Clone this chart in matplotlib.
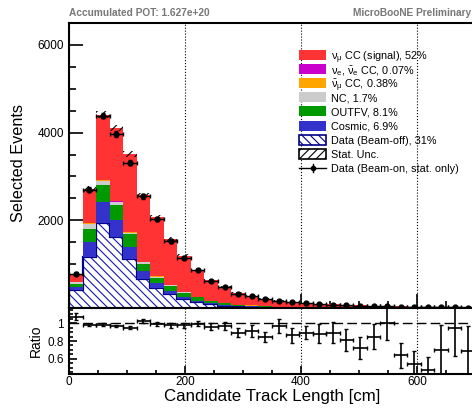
import numpy as np
import matplotlib
matplotlib.use("Agg")
import matplotlib.pyplot as plt
from matplotlib.patches import Rectangle
from matplotlib.lines import Line2D
from matplotlib.ticker import MultipleLocator, FuncFormatter

# binning: 30 bins from 0 to 700 cm
bin_edges = np.linspace(0, 700, 31)

# stacked prediction, events per bin (bottom -> top)
beam_off = [405, 1173, 1936, 1608, 1113, 656, 450, 327, 198, 130, 80, 55, 40, 30, 22,
            18, 14, 12, 10, 8, 7, 6, 5, 4, 4, 3, 3, 2, 2, 2]
cosmic = [75, 336, 471, 396, 289, 190, 121, 62, 53, 40, 25, 18, 12, 9, 7,
          5, 4, 3, 3, 2, 2, 2, 1, 1, 1, 1, 1, 1, 1, 1]
outfv = [60, 289, 404, 343, 282, 167, 122, 114, 99, 70, 45, 32, 22, 16, 12,
         9, 7, 6, 5, 4, 3, 3, 2, 2, 2, 2, 1, 1, 1, 1]
nc = [45, 120, 90, 65, 30, 30, 22, 14, 10, 8, 5, 4, 3, 2, 2,
      1, 1, 1, 1, 1, 1, 1, 0, 0, 0, 0, 0, 0, 0, 0]
numubar = [4, 12, 18, 16, 13, 9, 6, 4, 3, 2, 2, 1, 1, 1, 1,
           1, 1, 0, 0, 0, 0, 0, 0, 0, 0, 0, 0, 0, 0, 0]
nue = [1, 2, 2, 2, 2, 2, 1, 1, 1, 1, 1, 1, 0, 0, 0,
       0, 0, 0, 0, 0, 0, 0, 0, 0, 0, 0, 0, 0, 0, 0]
signal = [180, 781, 1491, 1677, 1784, 1522, 1343, 1048, 825, 619, 482, 369, 272, 222, 171,
          136, 113, 98, 81, 70, 59, 48, 42, 35, 29, 24, 20, 17, 14, 11]
mc_stat = [30, 60, 80, 75, 70, 55, 45, 40, 35, 30, 25, 20, 15, 12, 10,
           9, 8, 7, 6, 5, 5, 4, 4, 3, 3, 3, 3, 2, 2, 2]

# beam-on data
data = [784, 2700, 4390, 3970, 3315, 2545, 2035, 1532, 1150, 862, 617, 470, 330, 265, 200,
        160, 130, 110, 90, 75, 60, 45, 42, 40, 23, 17, 12, 14, 17, 10]

# data / prediction
ratio = [1.072, 0.981, 0.985, 0.965, 0.95, 1.025, 0.99, 0.975, 0.975, 0.996,
         0.958, 0.97, 0.893, 0.912, 0.844, 0.97, 0.863, 0.893, 0.882, 0.893,
         0.81, 0.72, 0.848, 1.0, 0.638, 0.54, 0.474, 0.695, 0.943, 0.683]
ratio_err = [0.04, 0.015, 0.012, 0.013, 0.015, 0.02, 0.02, 0.025, 0.028, 0.03,
             0.04, 0.044, 0.05, 0.072, 0.057, 0.082, 0.086, 0.076, 0.11, 0.12,
             0.124, 0.124, 0.143, 0.19, 0.143, 0.15, 0.15, 0.28, 0.31, 0.28]

stack = [
    (beam_off, "white", r"Data (Beam-off), 31%"),
    (cosmic, "#3333cc", "Cosmic, 6.9%"),
    (outfv, "#009900", "OUTFV, 8.1%"),
    (nc, "#cccccc", "NC, 1.7%"),
    (numubar, "#ffa500", r"$\bar{\nu}_\mu$ CC, 0.38%"),
    (nue, "#cc00cc", r"$\nu_e$, $\bar{\nu}_e$ CC, 0.07%"),
    (signal, "#ff3333", r"$\nu_\mu$ CC (signal), 52%"),
]

plt.rcParams["font.family"] = ["Liberation Sans", "DejaVu Sans"]
plt.rcParams["mathtext.fontset"] = "custom"
plt.rcParams["mathtext.rm"] = "Liberation Sans"
plt.rcParams["mathtext.it"] = "Liberation Sans"
plt.rcParams["mathtext.default"] = "regular"
plt.rcParams["hatch.linewidth"] = 0.8

W, H = 472, 409
fig = plt.figure(figsize=(W / 100, H / 100), dpi=100)

x0, x1 = 69, 475
ax = fig.add_axes([x0 / W, (H - 308) / H, (x1 - x0) / W, (308 - 23) / H])
axr = fig.add_axes([x0 / W, (H - 374) / H, (x1 - x0) / W, (374 - 308) / H])

edges = bin_edges
centers = 0.5 * (edges[:-1] + edges[1:])
halfw = 0.5 * (edges[1] - edges[0])

bottom = np.zeros(len(centers))
for vals, col, lab in stack:
    vals = np.asarray(vals, dtype=float)
    if col == "white":
        ax.stairs(bottom + vals, edges, baseline=bottom, fill=True,
                  facecolor="white", edgecolor="#1515b0", hatch="\\\\\\\\", linewidth=0)
        ax.stairs(bottom + vals, edges, baseline=0, color="#000088", linewidth=1.6)
    else:
        ax.stairs(bottom + vals, edges, baseline=bottom, fill=True, color=col, linewidth=0)
    bottom = bottom + vals
total = bottom

# MC stat. uncertainty band
ax.bar(centers, 2 * np.asarray(mc_stat), bottom=total - np.asarray(mc_stat), width=2 * halfw,
       fill=False, hatch="////", edgecolor="black", linewidth=0)

data = np.asarray(data, dtype=float)
ax.errorbar(centers, data, xerr=halfw, yerr=np.sqrt(data), fmt="o", ms=3.5,
            color="black", lw=1, capsize=1.5)

ax.set_xlim(0, 700)
ax.set_ylim(0, 6500)
ax.xaxis.set_major_locator(MultipleLocator(200))
ax.xaxis.set_minor_locator(MultipleLocator(50))
ax.yaxis.set_major_locator(MultipleLocator(2000))
ax.yaxis.set_minor_locator(MultipleLocator(500))
ax.yaxis.set_major_formatter(FuncFormatter(lambda v, p: "" if v == 0 else f"{v:g}"))
ax.tick_params(which="both", direction="in", labelsize=8.5, width=1.2)
ax.tick_params(which="major", length=10)
ax.tick_params(which="minor", length=5)
ax.tick_params(axis="x", labelbottom=False)
ax.grid(axis="x", which="major", color="black", linestyle=":", linewidth=0.8)
ax.set_axisbelow(True)
for s in ax.spines.values():
    s.set_linewidth(1.5)

# legend, drawn row by row so the spacing stays even
entries = [(c, lab) for _, c, lab in stack[::-1]]
entries.append(("stat", "Stat. Unc."))
entries.append(("data", "Data (Beam-on, stat. only)"))
row0, dy = 55, 14.1
for i, (kind, lab) in enumerate(entries):
    yc = 1 - (row0 + i * dy) / H
    bx, bw, bh = 299 / W, 27 / W, 10 / H
    if kind == "white":
        fig.patches.append(Rectangle((bx, yc - bh / 2), bw, bh, transform=fig.transFigure,
                                     facecolor="white", edgecolor="#000088", hatch="\\\\\\\\",
                                     linewidth=1.2))
    elif kind == "stat":
        fig.patches.append(Rectangle((bx, yc - bh / 2), bw, bh, transform=fig.transFigure,
                                     facecolor="white", edgecolor="black", hatch="////",
                                     linewidth=1.2))
    elif kind == "data":
        fig.lines.append(Line2D([bx, bx + bw], [yc, yc], transform=fig.transFigure,
                                color="black", lw=1))
        fig.lines.append(Line2D([bx + bw / 2] * 2, [yc - 4 / H, yc + 4 / H],
                                transform=fig.transFigure, color="black", lw=1))
        fig.lines.append(Line2D([bx + bw / 2], [yc], transform=fig.transFigure,
                                color="black", marker="o", ms=3))
    else:
        fig.patches.append(Rectangle((bx, yc - bh / 2), bw, bh, transform=fig.transFigure,
                                     facecolor=kind, edgecolor="none"))
    fig.text(331 / W, yc, lab, ha="left", va="center_baseline", fontsize=7.8)

# ratio panel
axr.errorbar(centers, ratio, xerr=halfw, yerr=ratio_err, fmt="none", color="black",
             lw=1.2, capsize=1.5)
axr.axhline(1, color="black", lw=1, linestyle=(0, (7, 3)))
axr.set_xlim(0, 700)
axr.set_ylim(0.43, 1.17)
axr.xaxis.set_major_locator(MultipleLocator(200))
axr.xaxis.set_minor_locator(MultipleLocator(50))
axr.yaxis.set_major_locator(MultipleLocator(0.2))
axr.yaxis.set_minor_locator(MultipleLocator(0.05))
axr.yaxis.set_major_formatter(FuncFormatter(lambda v, p: f"{v:g}"))
axr.tick_params(which="both", direction="in", labelsize=8.5, width=1.2)
axr.tick_params(which="major", length=6)
axr.tick_params(which="minor", length=3)
axr.tick_params(axis="x", pad=1.5)
axr.grid(axis="x", which="major", color="black", linestyle=":", linewidth=0.8)
for s in axr.spines.values():
    s.set_linewidth(1.5)

fig.text(18.5 / W, 1 - 163 / H, "Selected Events", rotation=90, ha="center", va="center", fontsize=11.7)
fig.text(35.5 / W, 1 - 341 / H, "Ratio", rotation=90, ha="center", va="center", fontsize=10)
fig.text(271.7 / W, 1 - 397 / H, "Candidate Track Length [cm]", ha="center", va="center", fontsize=12.2)
fig.text(x0 / W, 1 - 13 / H, "Accumulated POT: 1.627e+20", ha="left", va="center",
         fontsize=7.3, fontweight="bold", color="#777777")
fig.text(0.999, 1 - 13 / H, "MicroBooNE Preliminary", ha="right", va="center",
         fontsize=7.3, fontweight="bold", color="#777777")

fig.savefig("out.png", dpi=100)
